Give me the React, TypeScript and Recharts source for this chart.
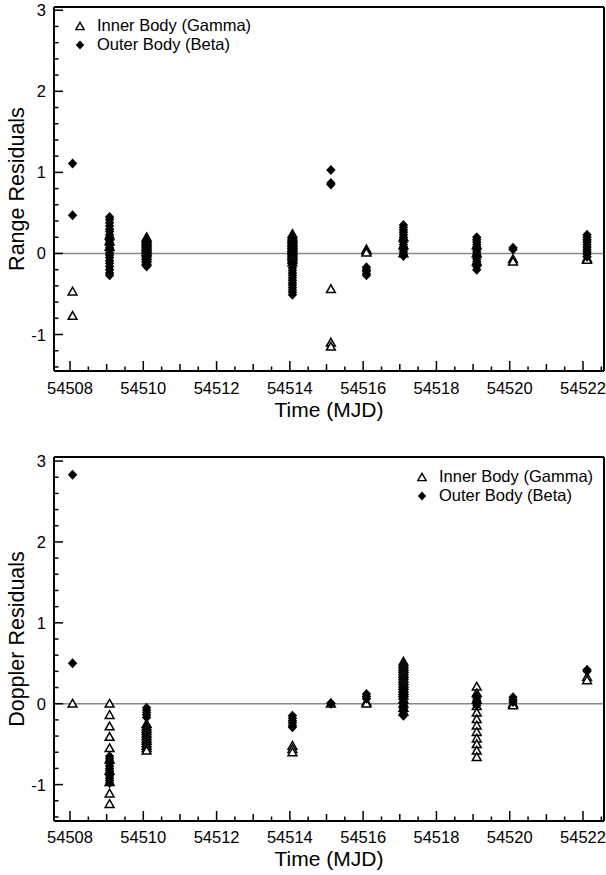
import React from 'react';
import { ScatterChart, Scatter, XAxis, YAxis, ReferenceLine, Legend, Label } from 'recharts';

// each row: [time (MJD), residuals observed at that time]
const rangeInner: [number, number[]][] = [
  [54508.07, [-0.47, -0.77]],
  [54509.08, [0.22, 0.15, 0.08]],
  [54510.09, [0.2, 0.18, 0.16, 0.14, 0.12, 0.1, 0.08, 0.06, 0.04, 0.02, 0.0, -0.03, -0.06, -0.1]],
  [54514.07, [0.24, 0.21, 0.19, 0.17, 0.15, 0.13, 0.11, 0.09, 0.07, 0.05, 0.03, 0.01, -0.01, -0.03, -0.05, -0.08, -0.11]],
  [54515.12, [-0.44, -1.1, -1.15]],
  [54516.09, [0.05, 0.03, 0.01]],
  [54517.1, [0.2, 0.1, 0.0]],
  [54519.1, [0.1, 0.0, -0.1]],
  [54520.09, [-0.07, -0.1]],
  [54522.11, [-0.06, -0.08]],
];

const rangeOuter: [number, number[]][] = [
  [54508.07, [1.11, 0.47]],
  [54509.08, [0.45, 0.42, 0.38, 0.34, 0.3, 0.27, 0.23, 0.2, 0.16, 0.13, 0.1, 0.07, 0.04, 0.01, -0.02, -0.05, -0.09, -0.12, -0.16, -0.2, -0.24, -0.27]],
  [54510.09, [-0.02, -0.05, -0.08, -0.1, -0.12, -0.14, -0.16]],
  [54514.07, [-0.12, -0.15, -0.18, -0.21, -0.24, -0.27, -0.3, -0.33, -0.36, -0.39, -0.42, -0.45, -0.48, -0.51]],
  [54515.12, [1.03, 0.87, 0.85]],
  [54516.09, [-0.17, -0.2, -0.22, -0.25, -0.27]],
  [54517.1, [0.35, 0.32, 0.29, 0.26, 0.23, 0.2, 0.17, 0.14, 0.11, 0.08, 0.05, 0.02, -0.01, -0.03]],
  [54519.1, [0.2, 0.17, 0.14, 0.11, 0.08, 0.05, 0.02, -0.01, -0.04, -0.07, -0.1, -0.13, -0.16, -0.2]],
  [54520.09, [0.07, 0.05]],
  [54522.11, [0.23, 0.2, 0.17, 0.14, 0.11, 0.08, 0.05, 0.02, -0.01, -0.04]],
];

const dopplerInner: [number, number[]][] = [
  [54508.07, [0.0]],
  [54509.08, [0.0, -0.14, -0.28, -0.41, -0.55, -0.69, -0.83, -0.97, -1.11, -1.24]],
  [54510.09, [-0.25, -0.28, -0.31, -0.34, -0.37, -0.4, -0.43, -0.46, -0.49, -0.52, -0.55, -0.58]],
  [54514.07, [-0.52, -0.56, -0.6]],
  [54515.12, [0.0]],
  [54516.09, [0.02, 0.0]],
  [54517.1, [0.52, 0.49, 0.46, 0.43, 0.4, 0.37, 0.34, 0.31, 0.28, 0.25, 0.22, 0.19, 0.16, 0.13, 0.1, 0.05, 0.0, -0.05, -0.1]],
  [54519.1, [0.21, 0.13, 0.05, -0.03, -0.11, -0.19, -0.27, -0.35, -0.43, -0.5, -0.58, -0.66]],
  [54520.09, [0.0, -0.02]],
  [54522.11, [0.33, 0.29]],
];

const dopplerOuter: [number, number[]][] = [
  [54508.07, [2.83, 0.5]],
  [54509.08, [-0.65, -0.68, -0.71, -0.74, -0.77, -0.8, -0.83, -0.86, -0.89, -0.92, -0.95, -0.98]],
  [54510.09, [-0.05, -0.08, -0.11, -0.14, -0.17]],
  [54514.07, [-0.15, -0.18, -0.21, -0.24, -0.27, -0.29]],
  [54515.12, [0.01, 0.0]],
  [54516.09, [0.12, 0.09, 0.06]],
  [54517.1, [0.15, 0.12, 0.09, 0.06, 0.03, 0.0, -0.03, -0.06, -0.09, -0.12, -0.15]],
  [54519.1, [0.1, 0.07, 0.04, 0.01, -0.02]],
  [54520.09, [0.08, 0.05, 0.02]],
  [54522.11, [0.42, 0.4]],
];

const xTicks = [
  54508, 54508.5, 54509, 54509.5, 54510, 54510.5, 54511, 54511.5, 54512, 54512.5,
  54513, 54513.5, 54514, 54514.5, 54515, 54515.5, 54516, 54516.5, 54517, 54517.5,
  54518, 54518.5, 54519, 54519.5, 54520, 54520.5, 54521, 54521.5, 54522, 54522.5,
];
const yTicks = [
  -1.4, -1.2, -1, -0.8, -0.6, -0.4, -0.2, 0, 0.2, 0.4, 0.6, 0.8, 1, 1.2, 1.4, 1.6,
  1.8, 2, 2.2, 2.4, 2.6, 2.8, 3,
];

const innerName = 'Inner Body (Gamma)';
const outerName = 'Outer Body (Beta)';

const FONT = '"Liberation Sans", Arial, Helvetica, sans-serif';
const X_DOMAIN: [number, number] = [54507.563, 54522.573];

const flatten = (rows: [number, number[]][]) =>
  rows.flatMap(([t, vals]) => vals.map((v) => ({ t, v })));

const Tri = (props: any) => {
  const { cx, cy } = props;
  return (
    <path
      d={`M${cx},${cy - 4.3} L${cx + 4.4},${cy + 3.4} L${cx - 4.4},${cy + 3.4} Z`}
      fill="#fff"
      stroke="#000"
      strokeWidth={1.5}
    />
  );
};

const Dia = (props: any) => {
  const { cx, cy } = props;
  return <path d={`M${cx},${cy - 5} L${cx + 4.7},${cy} L${cx},${cy + 5} L${cx - 4.7},${cy} Z`} fill="#000" />;
};

const XTick = (props: any) => {
  const { x, y, payload, labelDrop } = props;
  const v = payload.value;
  const whole = Number.isInteger(v);
  const even = whole && v % 2 === 0;
  const len = even ? 10 : whole ? 7 : 4.5;
  return (
    <g>
      <line x1={x} x2={x} y1={y} y2={y - len} stroke="#000" strokeWidth={1.5} />
      {even && (
        <text x={x} y={y + labelDrop} textAnchor="middle" fontSize={16.5} fontFamily={FONT} fill="#000">
          {v}
        </text>
      )}
    </g>
  );
};

const YTick = (props: any) => {
  const { x, y, payload } = props;
  const v = payload.value;
  const whole = Math.abs(v - Math.round(v)) < 1e-6;
  const len = whole ? 9 : 4.5;
  return (
    <g>
      <line x1={x} x2={x + len} y1={y} y2={y} stroke="#000" strokeWidth={1.5} />
      {whole && (
        <text x={x - 8} y={y + 6} textAnchor="end" fontSize={16.5} fontFamily={FONT} fill="#000">
          {Math.round(v)}
        </text>
      )}
    </g>
  );
};

const LegendBox = () => (
  <div style={{ fontFamily: FONT, fontSize: 16.5, color: '#000', lineHeight: '19px' }}>
    <div style={{ display: 'flex', alignItems: 'center', height: 19 }}>
      <svg width={10} height={10} style={{ marginRight: 12 }}>
        <path d="M5,1.3 L9.2,8.6 L0.8,8.6 Z" fill="#fff" stroke="#000" strokeWidth={1.4} />
      </svg>
      <span>{innerName}</span>
    </div>
    <div style={{ display: 'flex', alignItems: 'center', height: 19 }}>
      <svg width={10} height={10} style={{ marginRight: 12 }}>
        <path d="M5,0.6 L9.2,5 L5,9.4 L0.8,5 Z" fill="#000" />
      </svg>
      <span>{outerName}</span>
    </div>
  </div>
);

function ResidualChart({
  inner,
  outer,
  yTitle,
  yDomain,
  height,
  top,
  xAxisHeight,
  labelDrop,
  titleDrop,
  legendPos,
}: {
  inner: [number, number[]][];
  outer: [number, number[]][];
  yTitle: string;
  yDomain: [number, number];
  height: number;
  top: number;
  xAxisHeight: number;
  labelDrop: number;
  titleDrop: number;
  legendPos: { left: number; top: number };
}) {
  const innerPts = flatten(inner);
  const outerPts = flatten(outer);
  return (
    <ScatterChart width={606} height={height} margin={{ top, right: 2, bottom: 0, left: 0 }} style={{ fontFamily: FONT }}>
      <XAxis
        dataKey="t"
        type="number"
        domain={X_DOMAIN}
        allowDataOverflow
        ticks={xTicks}
        interval={0}
        tickSize={0}
        tickMargin={0}
        tickLine={false}
        tick={<XTick labelDrop={labelDrop} />}
        axisLine={{ stroke: '#000', strokeWidth: 2 }}
        height={xAxisHeight}
      >
        <Label
          content={(p: any) => {
            const vb = p.viewBox || {};
            return (
              <text
                x={(vb.x ?? 54) + (vb.width ?? 550) / 2}
                y={(vb.y ?? 0) + titleDrop}
                textAnchor="middle"
                fontSize={21}
                fontFamily={FONT}
                fill="#000"
              >
                Time (MJD)
              </text>
            );
          }}
        />
      </XAxis>
      <YAxis
        dataKey="v"
        type="number"
        domain={yDomain}
        allowDataOverflow
        ticks={yTicks}
        interval={0}
        tickSize={0}
        tickMargin={0}
        tickLine={false}
        tick={<YTick />}
        axisLine={{ stroke: '#000', strokeWidth: 2 }}
        width={54}
      >
        <Label
          content={(p: any) => {
            const vb = p.viewBox || {};
            const cy = (vb.y ?? top) + (vb.height ?? 364) / 2;
            return (
              <text
                x={17}
                y={cy}
                transform={`rotate(-90, 17, ${cy})`}
                textAnchor="middle"
                dominantBaseline="central"
                fontSize={21.5}
                fontFamily={FONT}
                fill="#000"
              >
                {yTitle}
              </text>
            );
          }}
        />
      </YAxis>
      <ReferenceLine y={0} stroke="#8a8a8a" strokeWidth={1.6} />
      <ReferenceLine y={yDomain[1]} stroke="#000" strokeWidth={2} />
      <ReferenceLine x={X_DOMAIN[1]} stroke="#000" strokeWidth={2} />
      <Scatter name={innerName} data={innerPts} shape={Tri} isAnimationActive={false} />
      <Scatter name={outerName} data={outerPts} shape={Dia} isAnimationActive={false} />
      <Legend
        layout="vertical"
        align="center"
        verticalAlign="middle"
        content={() => <LegendBox />}
        wrapperStyle={{ left: legendPos.left, top: legendPos.top, width: 'auto', height: 'auto' }}
      />
    </ScatterChart>
  );
}

export default function App() {
  return (
    <div style={{ position: 'absolute', left: 0, top: 0, width: 606, height: 875, background: '#fff' }}>
      <ResidualChart
        inner={rangeInner}
        outer={rangeOuter}
        yTitle="Range Residuals"
        yDomain={[-1.45, 3.04]}
        height={437}
        top={7}
        xAxisHeight={66}
        labelDrop={23}
        titleDrop={46}
        legendPos={{ left: 75, top: 16 }}
      />
      <ResidualChart
        inner={dopplerInner}
        outer={dopplerOuter}
        yTitle="Doppler Residuals"
        yDomain={[-1.45, 3.05]}
        height={438}
        top={20}
        xAxisHeight={54}
        labelDrop={21.5}
        titleDrop={45}
        legendPos={{ left: 417, top: 30 }}
      />
    </div>
  );
}
